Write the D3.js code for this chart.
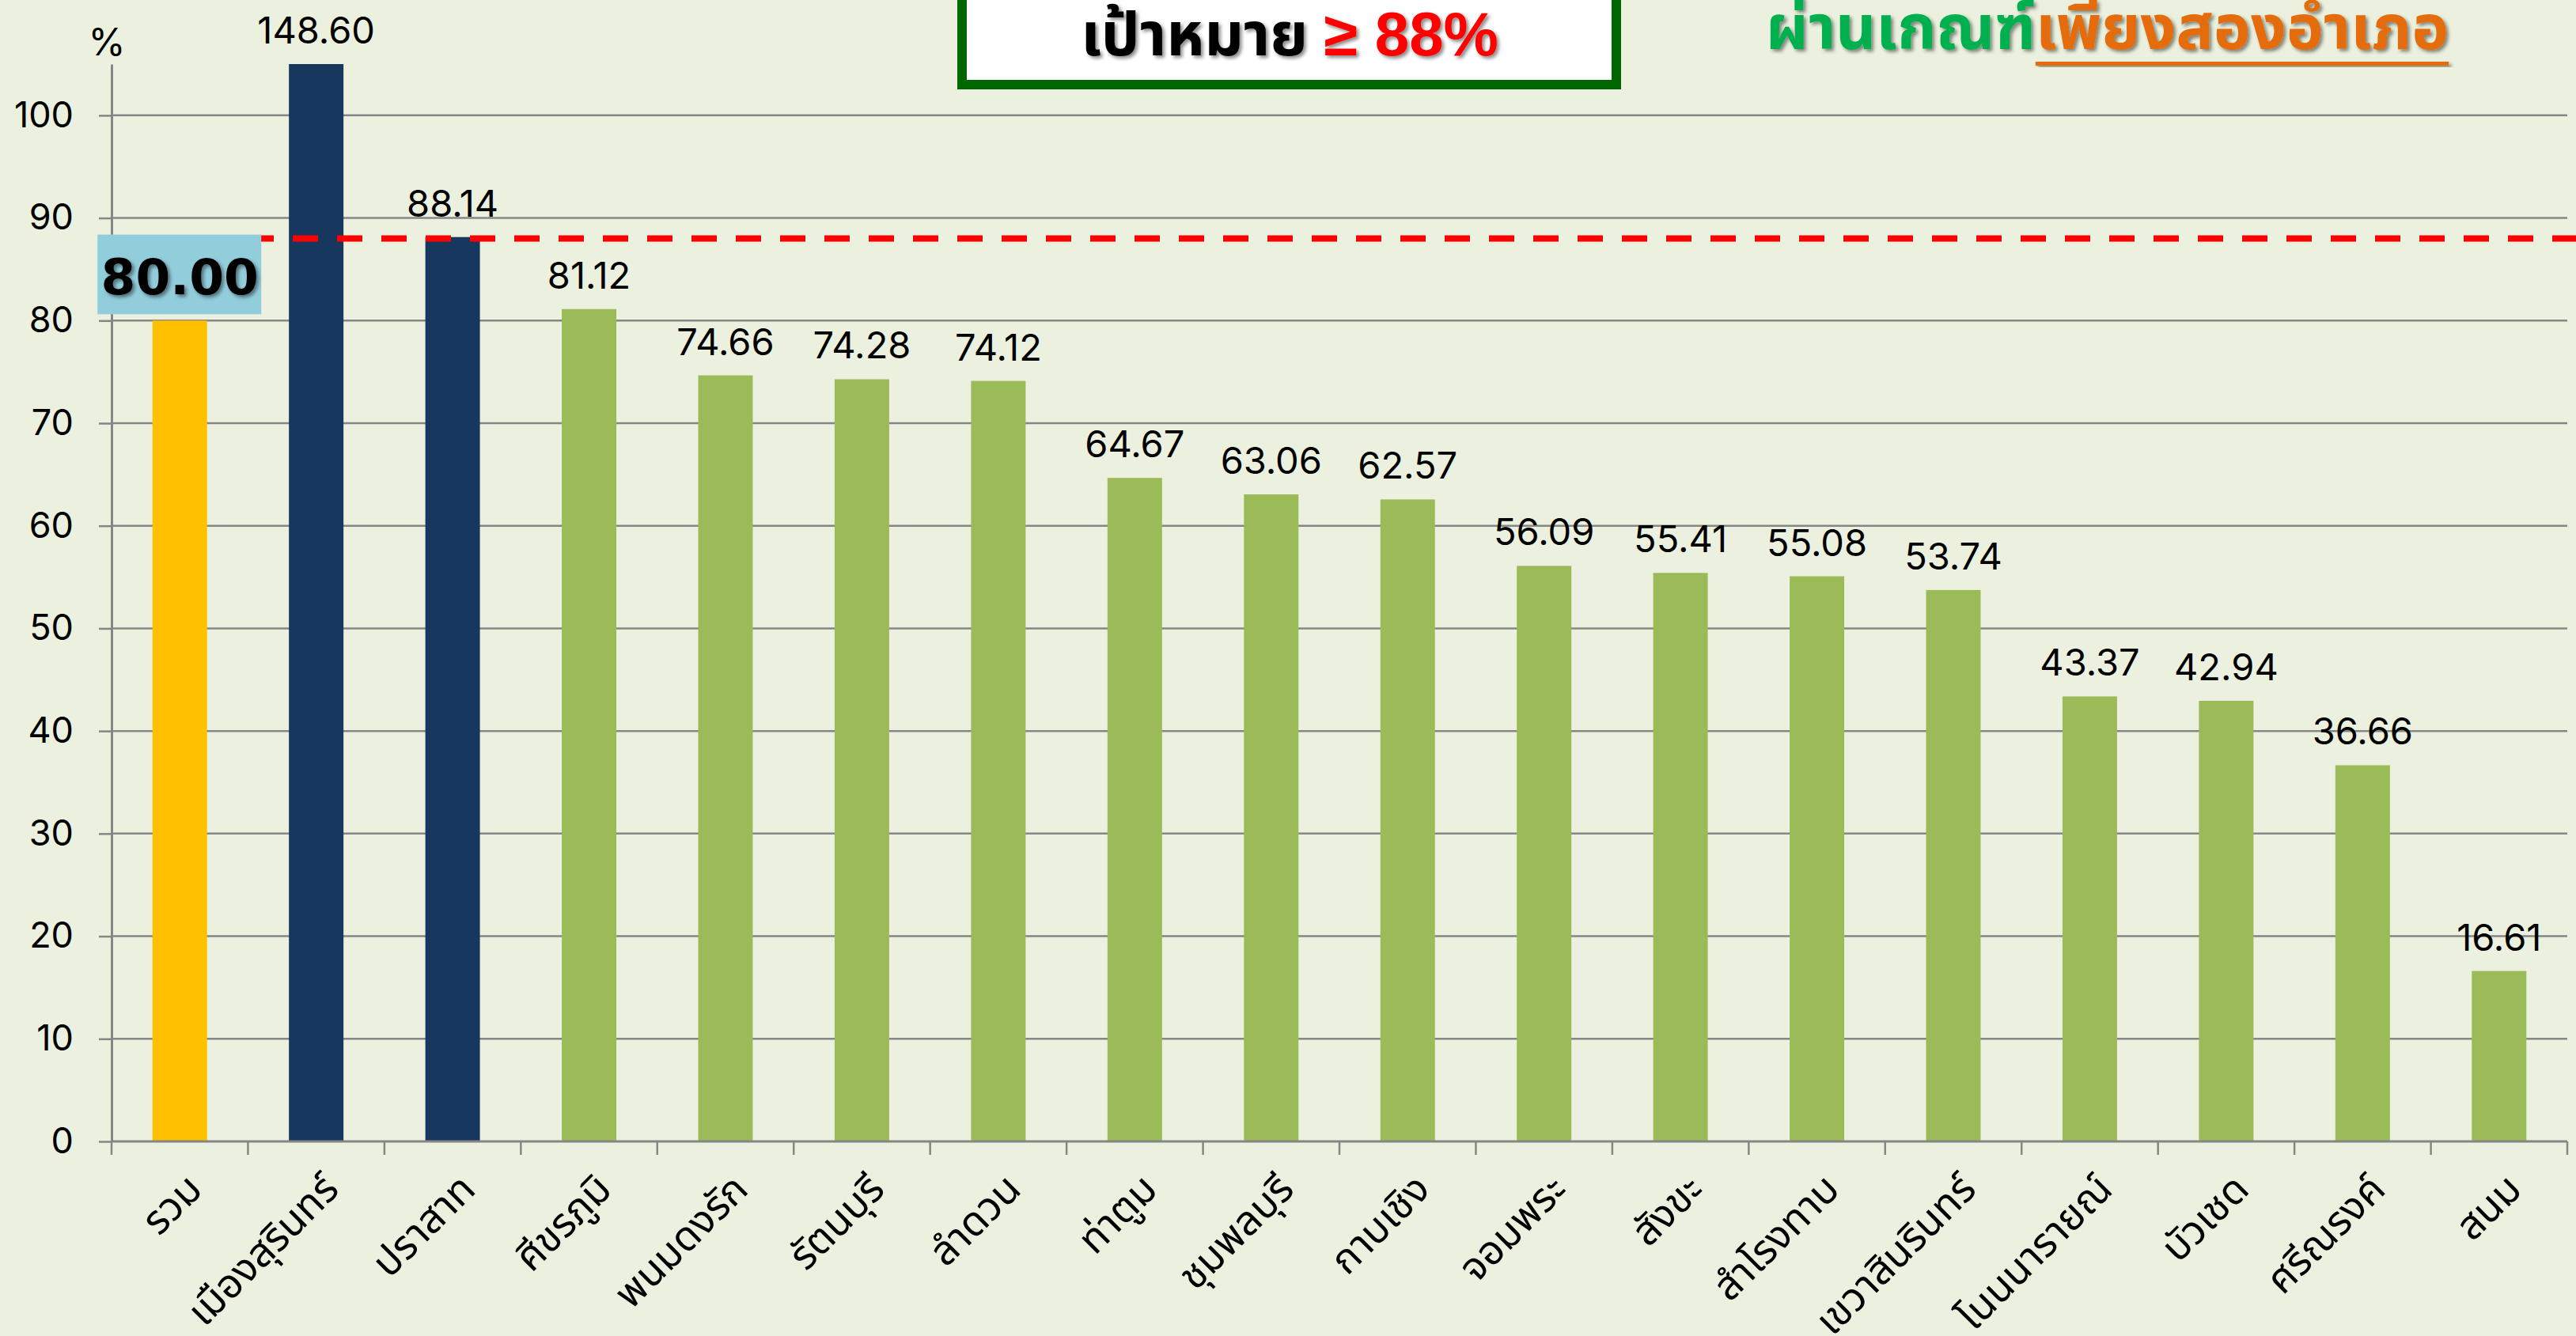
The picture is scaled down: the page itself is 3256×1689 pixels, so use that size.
<!DOCTYPE html>
<html>
<head>
<meta charset="utf-8">
<script src="https://cdn.jsdelivr.net/npm/d3@7"></script>
<style>
  body { margin: 0; background: #EBF1DE; }
  svg { display: block; }
</style>
</head>
<body>
<div id="chart"></div>
<script>
// data
const districts = ["รวม", "เมืองสุรินทร์", "ปราสาท", "ศีขรภูมิ", "พนมดงรัก", "รัตนบุรี", "ลำดวน",
  "ท่าตูม", "ชุมพลบุรี", "กาบเชิง", "จอมพระ", "สังขะ", "สำโรงทาบ", "เขวาสินรินทร์",
  "โนนนารายณ์", "บัวเชด", "ศรีณรงค์", "สนม"];
const percents = [80.00, 148.60, 88.14, 81.12, 74.66, 74.28, 74.12, 64.67, 63.06, 62.57,
  56.09, 55.41, 55.08, 53.74, 43.37, 42.94, 36.66, 16.61];
const yTicks = [0, 10, 20, 30, 40, 50, 60, 70, 80, 90, 100];
const target = 88;

const thaiFont = "'Noto Sans Thai', Loma, Garuda, 'Tlwg Typo', sans-serif";
const numFont = "Inter, 'Liberation Sans', sans-serif";

const W = 3256, H = 1689;
const plot = { left: 141, right: 3245, top: 81, bottom: 1443 };

const svg = d3.select("#chart").append("svg")
  .attr("width", W)
  .attr("height", H);

svg.append("rect").attr("width", W).attr("height", H).attr("fill", "#EBF1DE");

const defs = svg.append("defs");
defs.append("filter").attr("id", "shadow")
  .attr("x", "-10%").attr("y", "-10%").attr("width", "130%").attr("height", "140%")
  .append("feDropShadow")
  .attr("dx", 3).attr("dy", 3).attr("stdDeviation", 2)
  .attr("flood-color", "#000").attr("flood-opacity", 0.45);
defs.append("clipPath").attr("id", "plotClip")
  .append("rect")
  .attr("x", plot.left).attr("y", plot.top)
  .attr("width", plot.right - plot.left).attr("height", plot.bottom - plot.top);

// scales
const x = d3.scaleBand()
  .domain(districts)
  .range([plot.left, plot.right])
  .paddingInner(0.6)
  .paddingOuter(0.3);

const y = d3.scaleLinear()
  .domain([0, 105])
  .range([plot.bottom, plot.top]);

const barColor = (d, i) => i === 0 ? "#FFC000" : (percents[i] >= target ? "#17375E" : "#9BBB59");

// gridlines
svg.append("g")
  .selectAll("line")
  .data(yTicks.filter(t => t > 0))
  .join("line")
  .attr("x1", plot.left).attr("x2", plot.right)
  .attr("y1", d => y(d)).attr("y2", d => y(d))
  .attr("stroke", "#868686")
  .attr("stroke-width", 2.5);

// bars
const data = districts.map((name, i) => ({ name, value: percents[i], i }));
svg.append("g")
  .attr("clip-path", "url(#plotClip)")
  .selectAll("rect")
  .data(data)
  .join("rect")
  .attr("x", d => x(d.name))
  .attr("width", x.bandwidth())
  .attr("y", d => y(d.value))
  .attr("height", d => y(0) - y(d.value))
  .attr("fill", d => barColor(d, d.i));

// y axis
const yAxis = svg.append("g")
  .attr("transform", `translate(${plot.left},0)`)
  .call(d3.axisLeft(y).tickValues(yTicks).tickSize(16).tickSizeOuter(0).tickPadding(32).tickFormat(d3.format("d")));
yAxis.select(".domain").attr("stroke", "#868686").attr("stroke-width", 3);
yAxis.selectAll(".tick line").attr("stroke", "#868686").attr("stroke-width", 2.5);
yAxis.selectAll(".tick text")
  .style("font-family", numFont)
  .style("font-size", "45px")
  .attr("fill", "#000");

// x axis line and boundary ticks
const gap = x.step() - x.bandwidth();
const bounds = districts.map(d => x(d) - gap / 2).concat([plot.right]);
const xAxis = svg.append("g");
xAxis.selectAll("line.tk")
  .data(bounds)
  .join("line")
  .attr("class", "tk")
  .attr("x1", d => d).attr("x2", d => d)
  .attr("y1", plot.bottom).attr("y2", plot.bottom + 17)
  .attr("stroke", "#868686").attr("stroke-width", 2.5);
xAxis.append("line")
  .attr("x1", plot.left).attr("x2", plot.right)
  .attr("y1", plot.bottom).attr("y2", plot.bottom)
  .attr("stroke", "#868686").attr("stroke-width", 3);

xAxis.selectAll("text")
  .data(districts)
  .join("text")
  .attr("transform", d => `translate(${x(d) + x.bandwidth() / 2 + 6},${plot.bottom + 38}) rotate(-45)`)
  .attr("text-anchor", "end")
  .attr("dy", "0.7em")
  .style("font-family", thaiFont)
  .style("font-size", "51px")
  .attr("fill", "#000")
  .text(d => d);

// "%" unit
svg.append("text")
  .attr("x", 135).attr("y", 70)
  .attr("text-anchor", "middle")
  .style("font-family", numFont)
  .style("font-size", "48px")
  .text("%");

// target line
svg.append("line")
  .attr("x1", plot.left + 5).attr("x2", W)
  .attr("y1", y(target)).attr("y2", y(target))
  .attr("stroke", "#FF0000")
  .attr("stroke-width", 8)
  .attr("stroke-dasharray", "32 24");

// value labels (skip the total, it gets its own box)
svg.append("g")
  .selectAll("text")
  .data(data.filter(d => d.i > 0))
  .join("text")
  .attr("x", d => x(d.name) + x.bandwidth() / 2)
  .attr("y", d => Math.max(y(d.value), plot.top) - 26)
  .attr("text-anchor", "middle")
  .style("font-family", numFont)
  .style("font-size", "47px")
  .attr("fill", "#000")
  .text(d => d.value.toFixed(2));

// total label box
const cx0 = x(districts[0]) + x.bandwidth() / 2;
svg.append("rect")
  .attr("x", cx0 - 104).attr("y", y(target) - 5)
  .attr("width", 207).attr("height", y(80) - 8 - (y(target) - 5))
  .attr("fill", "#92CDDC");
svg.append("text")
  .attr("x", cx0).attr("y", y(80) - 33)
  .attr("text-anchor", "middle")
  .attr("filter", "url(#shadow)")
  .style("font-family", "'DejaVu Sans', sans-serif")
  .style("font-weight", "bold")
  .style("font-size", "63px")
  .text(percents[0].toFixed(2));

// title box
svg.append("rect")
  .attr("x", 1216).attr("y", -30)
  .attr("width", 827).attr("height", 137)
  .attr("fill", "#FFFFFF")
  .attr("stroke", "#006600")
  .attr("stroke-width", 12);
const title = svg.append("text")
  .attr("x", 1630).attr("y", 70)
  .attr("text-anchor", "middle")
  .attr("filter", "url(#shadow)")
  .style("font-weight", "bold");
title.append("tspan")
  .style("font-family", thaiFont)
  .style("font-size", "77px")
  .attr("fill", "#000")
  .text("เป้าหมาย ");
title.append("tspan")
  .style("font-family", "'Liberation Sans', sans-serif")
  .style("font-size", "78px")
  .attr("fill", "#FF0000")
  .text("≥ 88%");

// note at top right
const noteGreen = svg.append("text")
  .attr("x", 2232).attr("y", 62)
  .attr("filter", "url(#shadow)")
  .style("font-family", thaiFont)
  .style("font-weight", "bold")
  .style("font-size", "79px")
  .attr("fill", "#00B050")
  .text("ผ่านเกณฑ์");
const gw = noteGreen.node().getComputedTextLength();
const noteOrange = svg.append("text")
  .attr("x", 2232 + gw).attr("y", 62)
  .attr("filter", "url(#shadow)")
  .style("font-family", thaiFont)
  .style("font-weight", "bold")
  .style("font-size", "79px")
  .attr("fill", "#E46C0A")
  .text("เพียงสองอำเภอ");
const ow = noteOrange.node().getComputedTextLength();
svg.append("rect")
  .attr("x", 2232 + gw).attr("y", 78)
  .attr("width", ow).attr("height", 5)
  .attr("filter", "url(#shadow)")
  .attr("fill", "#E46C0A");
</script>
</body>
</html>
